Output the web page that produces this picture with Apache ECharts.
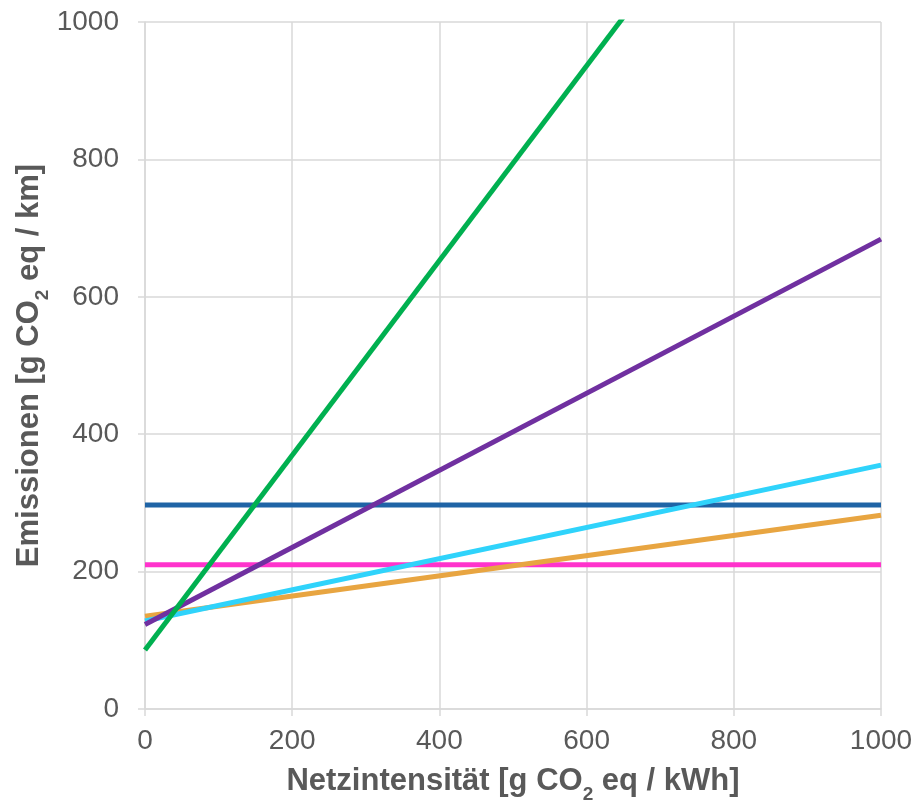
<!DOCTYPE html>
<html>
<head>
<meta charset="utf-8">
<script src="https://cdn.jsdelivr.net/npm/echarts@6/dist/echarts.min.js"></script>
<style>
  html, body { margin: 0; padding: 0; background: #fff; }
  #chart { width: 917px; height: 804px; }
</style>
</head>
<body>
<div id="chart"></div>
<script>
// Netzintensität (x) endpoints and emissions
const xEnds = [0, 1000]
const blueLine = [297, 297]
const magentaLine = [210, 210]
const orangeLine = [135, 282]
const cyanLine = [128, 355]
const purpleLine = [123, 684]
const greenLine = [86, 1503]

const yTicks = [0, 200, 400, 600, 800, 1000]

const toPairs = vals => xEnds.map((x, i) => [x, vals[i]])

const chart = echarts.init(document.getElementById('chart'))

const labelColor = '#595959'
const font = 'Liberation Sans'
const nameRich = {
  t: { fontSize: 31, fontWeight: 'bold', color: labelColor, fontFamily: font },
  s: { fontSize: 19, fontWeight: 'bold', color: labelColor, fontFamily: font, verticalAlign: 'bottom', padding: [0, 0, -7, 0] }
}

function line(vals, color) {
  return {
    type: 'line',
    data: toPairs(vals),
    symbol: 'none',
    clip: true,
    lineStyle: { color: color, width: 5 },
    silent: true
  }
}

const gridColor = '#d9d9d9'

chart.setOption({
  backgroundColor: '#fff',
  animation: false,
  grid: { left: 145, right: 36, top: 22, bottom: 95, outerBoundsMode: 'none' },
  xAxis: {
    type: 'value',
    min: 0,
    max: 1000,
    interval: 200,
    name: '{t|Netzintensität [g CO}{s|2}{t| eq / kWh]}',
    nameLocation: 'middle',
    nameGap: 57,
    nameMoveOverlap: false,
    nameTextStyle: { fontSize: 31, fontWeight: 'bold', rich: nameRich },
    axisLine: { show: true, lineStyle: { color: gridColor, width: 1.5 } },
    axisTick: { show: true, length: 7, lineStyle: { color: gridColor, width: 1.5 } },
    axisLabel: { fontSize: 28, color: labelColor, margin: 18, fontFamily: font, formatter: v => String(v) },
    splitLine: { show: true, lineStyle: { color: gridColor, width: 1.5 } }
  },
  yAxis: {
    type: 'value',
    min: yTicks[0],
    max: yTicks[yTicks.length - 1],
    interval: 200,
    name: '{t|Emissionen [g CO}{s|2}{t| eq / km]}',
    nameLocation: 'middle',
    nameGap: 100,
    nameMoveOverlap: false,
    nameRotate: 90,
    nameTextStyle: { fontSize: 31, fontWeight: 'bold', rich: nameRich },
    axisLine: { show: true, lineStyle: { color: gridColor, width: 1.5 } },
    axisTick: { show: true, length: 7, lineStyle: { color: gridColor, width: 1.5 } },
    axisLabel: { fontSize: 28, color: labelColor, margin: 26, fontFamily: font, formatter: v => String(v) },
    splitLine: { show: true, lineStyle: { color: gridColor, width: 1.5 } }
  },
  series: [
    line(blueLine, '#1f64a6'),
    line(magentaLine, '#ff33cc'),
    line(orangeLine, '#e8a541'),
    line(cyanLine, '#2fd3fb'),
    line(purpleLine, '#7030a0'),
    line(greenLine, '#00b050')
  ]
})
</script>
</body>
</html>
